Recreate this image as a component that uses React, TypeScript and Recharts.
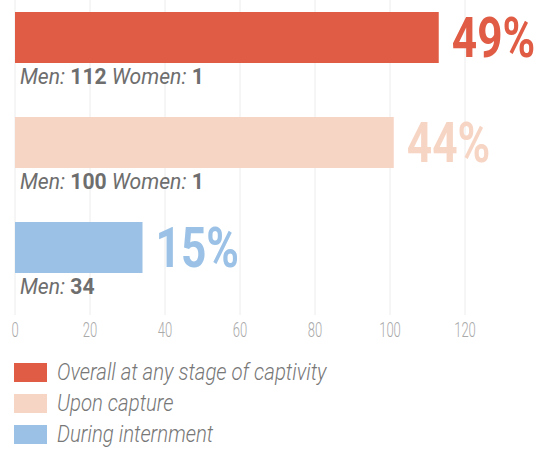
import { Bar, BarChart, CartesianGrid, Cell, LabelList, Legend, XAxis, YAxis } from "recharts";

const categories = ["Overall at any stage of captivity", "Upon capture", "During internment"];
const shares = ["49%", "44%", "15%"];
const menCounts = [112, 100, 34];
const womenCounts = [1, 1, 0];
const xTicks = [0, 20, 40, 60, 80, 100, 120];
const colors = ["#e05c44", "#f7d5c4", "#9bc2e6"];

const data = categories.map((name, i) => ({
  name,
  row: i,
  total: menCounts[i] + womenCounts[i],
}));

const FONT = "Roboto, 'Open Sans', sans-serif";

const AxisTick = (props: any) => {
  const { x, y, payload } = props;
  return (
    <text
      transform={`translate(${x},${y + 22}) scale(0.62,1)`}
      textAnchor="middle"
      fontFamily={FONT}
      fontSize={21}
      fontWeight={300}
      fill="#a9a9a9"
    >
      {payload.value}
    </text>
  );
};

const ShareLabel = (props: any) => {
  const { x, y, width, height, index } = props;
  return (
    <text
      transform={`translate(${x + width + 13},${y + height / 2 + 20}) scale(0.79,1)`}
      fontFamily={FONT}
      fontSize={56}
      fontWeight={700}
      fill={colors[index]}
    >
      {shares[index]}
    </text>
  );
};

const CountLabel = (props: any) => {
  const { x, y, height, index } = props;
  const women = womenCounts[index];
  return (
    <text
      transform={`translate(${x + 5},${y + height + 21}) scale(0.96,1)`}
      fontFamily={FONT}
      fontSize={22}
      fill="#6e6e6e"
    >
      <tspan fontStyle="italic" fontWeight={400}>Men: </tspan>
      <tspan fontWeight={700}>{menCounts[index]}</tspan>
      {women > 0 && <tspan fontStyle="italic" fontWeight={400}> Women: </tspan>}
      {women > 0 && <tspan fontWeight={700}>{women}</tspan>}
    </text>
  );
};

const LegendRows = () => (
  <svg width={538} height={96} style={{ display: "block" }}>
    {categories.map((c, i) => (
      <g key={c}>
        <rect x={14} y={8 + i * 31} width={33} height={19} fill={colors[i]} />
        <text
          transform={`translate(57,${25 + i * 31}) scale(0.85,1)`}
          fontFamily={FONT}
          fontSize={24}
          fontStyle="italic"
          fontWeight={300}
          fill="#777"
        >
          {c}
        </text>
      </g>
    ))}
  </svg>
);

export default function App() {
  return (
    <div style={{ position: "absolute", left: 0, top: 0 }}>
      <BarChart
        width={538}
        height={451}
        layout="vertical"
        data={data}
        margin={{ top: 0, right: 73, left: 15, bottom: 0 }}
      >
        <CartesianGrid horizontal={false} stroke="#ececec" />
        <XAxis
          type="number"
          domain={[0, 120]}
          ticks={xTicks}
          interval={0}
          height={40}
          tickSize={0}
          tickMargin={0}
          axisLine={false}
          tickLine={false}
          tick={<AxisTick />}
        />
        <YAxis
          type="number"
          dataKey="row"
          domain={[-0.357, 2.643]}
          ticks={[0, 1, 2]}
          allowDataOverflow
          hide
        />
        <Legend
          verticalAlign="bottom"
          height={96}
          wrapperStyle={{ left: 0, bottom: 0, width: 538 }}
          content={<LegendRows />}
        />
        <Bar dataKey="total" barSize={51} isAnimationActive={false}>
          {data.map((d, i) => (
            <Cell key={d.name} fill={colors[i]} />
          ))}
          <LabelList dataKey="total" content={<ShareLabel />} />
          <LabelList dataKey="total" content={<CountLabel />} />
        </Bar>
      </BarChart>
    </div>
  );
}
